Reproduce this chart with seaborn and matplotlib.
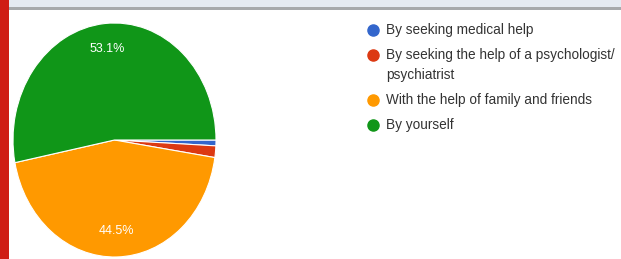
import matplotlib
matplotlib.use("Agg")
import matplotlib.pyplot as plt
import seaborn as sns
from matplotlib.patches import Rectangle
from matplotlib.lines import Line2D

# Dados (respostas do formulário)
categorias = ["By seeking medical help",
              "By seeking the help of a psychologist/\npsychiatrist",
              "With the help of family and friends",
              "By yourself"]
percentuais = [0.8, 1.6, 44.5, 53.1]
cores = ["#3366cc", "#dc3912", "#ff9900", "#109618"]

sns.set_theme(style="white")
plt.rcParams['font.family'] = ['Liberation Sans', 'DejaVu Sans']

fig = plt.figure(figsize=(6.21, 2.59), dpi=100)
fig.patch.set_facecolor("white")

# Faixa do topo e barra vermelha lateral
fig.patches.append(Rectangle((0, 252 / 259), 1, 7 / 259, transform=fig.transFigure,
                             facecolor="#e5eaf1", edgecolor="none", zorder=0))
fig.patches.append(Rectangle((0, 249 / 259), 1, 3 / 259, transform=fig.transFigure,
                             facecolor="#a7a9ab", edgecolor="none", zorder=0))
fig.patches.append(Rectangle((0, 0), 9 / 621, 1, transform=fig.transFigure,
                             facecolor="#cf1d15", edgecolor="none", zorder=1))

# Gráfico de pizza
ax = fig.add_axes([13 / 621, 2 / 259, 203 / 621, 234 / 259])


def formato(pct):
    return f"{pct:.1f}%" if pct > 5 else ""


wedges, textos, autotextos = ax.pie(percentuais, colors=cores, startangle=0, counterclock=False,
                                    autopct=formato, pctdistance=0.78,
                                    wedgeprops=dict(edgecolor="white", linewidth=0.8),
                                    textprops=dict(color="white", fontsize=9))
ax.set_aspect("auto")
ax.set_xlim(-1, 1)
ax.set_ylim(-1, 1)
ax.axis("off")

# Legenda (círculo alinhado à primeira linha de cada item)
y = 30
for cat, cor in zip(categorias, cores):
    yf = 1 - y / 259
    fig.add_artist(Line2D([373 / 621], [yf], marker="o", linestyle="none", markersize=8,
                          markerfacecolor=cor, markeredgecolor=cor, transform=fig.transFigure))
    # o texto começa no topo da primeira linha
    fig.text(386 / 621, yf + 7 / 259, cat, color="#333333", fontsize=9.8, va="top",
             linespacing=1.55, transform=fig.transFigure)
    y += 25 + 20 * cat.count("\n")

fig.savefig("out.png", dpi=100)
